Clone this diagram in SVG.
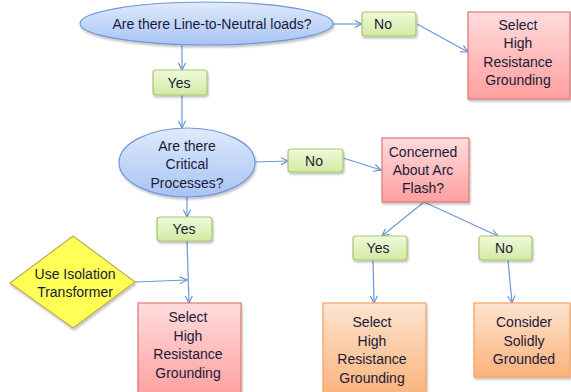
<svg xmlns="http://www.w3.org/2000/svg" width="571" height="392" viewBox="0 0 571 392">
<defs>
<linearGradient id="gBlue" x1="0" y1="0" x2="0" y2="1"><stop offset="0" stop-color="#dfeafc"/><stop offset="1" stop-color="#a8c4f4"/></linearGradient>
<linearGradient id="gGreen" x1="0" y1="0" x2="0" y2="1"><stop offset="0" stop-color="#f0f9dc"/><stop offset="1" stop-color="#d2eaa2"/></linearGradient>
<linearGradient id="gRed" x1="0" y1="0" x2="0" y2="1"><stop offset="0" stop-color="#ffdcdc"/><stop offset="1" stop-color="#ff9f9f"/></linearGradient>
<linearGradient id="gOrange" x1="0" y1="0" x2="0" y2="1"><stop offset="0" stop-color="#fde4d0"/><stop offset="1" stop-color="#fbb27a"/></linearGradient>
<filter id="sh" x="-10%" y="-10%" width="130%" height="130%"><feDropShadow dx="1" dy="2" stdDeviation="1.2" flood-color="#000" flood-opacity="0.25"/></filter>
<marker id="arr" viewBox="0 0 10 10" refX="9" refY="5" markerWidth="9" markerHeight="9" orient="auto" markerUnits="userSpaceOnUse"><path d="M1,1 L9,5 L1,9" fill="none" stroke="#5d8ccf" stroke-width="1.2"/></marker>
</defs>
<style>
text{font-family:"Liberation Sans",Arial,sans-serif;font-size:14px;fill:#1a1a38;text-anchor:middle}
.ell{fill:url(#gBlue);stroke:#6f97d6;stroke-width:1.2;filter:url(#sh)}
.grn{fill:url(#gGreen);stroke:#a6c96a;stroke-width:1.2;filter:url(#sh)}
.red{fill:url(#gRed);stroke:#d77a78;stroke-width:1.2;filter:url(#sh)}
.org{fill:url(#gOrange);stroke:#f4a161;stroke-width:1.2;filter:url(#sh)}
.dia{fill:#ffff55;stroke:#bfae55;stroke-width:1.2;filter:url(#sh)}
.c{fill:none;stroke:#6f97d6;stroke-width:1.2;marker-end:url(#arr)}
</style>
<rect width="571" height="392" fill="#fff"/>
<g id="connectors">
<line class="c" x1="333" y1="24" x2="362" y2="24"/>
<line class="c" x1="417" y1="24" x2="468" y2="52"/>
<line class="c" x1="182" y1="45" x2="182" y2="70"/>
<line class="c" x1="182" y1="95" x2="182" y2="128"/>
<line class="c" x1="255" y1="162" x2="288" y2="161"/>
<line class="c" x1="343" y1="158" x2="381" y2="170"/>
<line class="c" x1="187" y1="197" x2="187" y2="217"/>
<line class="c" x1="187" y1="241" x2="189" y2="303"/>
<line class="c" x1="135" y1="282" x2="187" y2="280"/>
<line class="c" x1="424" y1="202" x2="382" y2="236"/>
<line class="c" x1="424" y1="202" x2="498" y2="236"/>
<line class="c" x1="373" y1="260" x2="374" y2="303"/>
<line class="c" x1="508" y1="260" x2="512" y2="303"/>
</g>
<g id="q1"><ellipse class="ell" cx="206.5" cy="23.5" rx="126.5" ry="21.5"/><text x="212" y="29">Are there Line-to-Neutral loads?</text></g>
<g id="no1"><rect class="grn" x="362" y="12" width="54" height="24" rx="3"/><text x="383" y="29">No</text></g>
<g id="hrg1"><rect class="red" x="468" y="12" width="102" height="87"/><text x="518" y="30">Select</text><text x="518" y="48">High</text><text x="518" y="67">Resistance</text><text x="518" y="85">Grounding</text></g>
<g id="yes1"><rect class="grn" x="153" y="70" width="54" height="25" rx="3"/><text x="179" y="88">Yes</text></g>
<g id="q2"><ellipse class="ell" cx="187" cy="162.5" rx="68" ry="34.5"/><text x="187" y="151">Are there</text><text x="187" y="169">Critical</text><text x="187" y="188">Processes?</text></g>
<g id="no2"><rect class="grn" x="288" y="149" width="55" height="23" rx="3"/><text x="314" y="166">No</text></g>
<g id="q3"><rect class="red" x="382" y="138" width="87" height="64"/><text x="423" y="157">Concerned</text><text x="423" y="175">About Arc</text><text x="423" y="193">Flash?</text></g>
<g id="yes2"><rect class="grn" x="157" y="217" width="55" height="24" rx="3"/><text x="184" y="234">Yes</text></g>
<g id="yes3"><rect class="grn" x="353" y="236" width="54" height="24" rx="3"/><text x="378" y="253">Yes</text></g>
<g id="no3"><rect class="grn" x="479" y="236" width="53" height="24" rx="3"/><text x="504" y="253">No</text></g>
<g id="iso"><polygon class="dia" points="73,236 135,282 73,328 10,283"/><text x="75" y="279">Use Isolation</text><text x="75" y="297">Transformer</text></g>
<g id="hrg2"><rect class="red" x="138" y="303" width="103" height="95"/><text x="188" y="322">Select</text><text x="188" y="341">High</text><text x="188" y="359">Resistance</text><text x="188" y="378">Grounding</text></g>
<g id="hrg3"><rect class="org" x="323" y="303" width="103" height="95"/><text x="372" y="327">Select</text><text x="372" y="346">High</text><text x="372" y="364">Resistance</text><text x="372" y="383">Grounding</text></g>
<g id="solid"><rect class="org" x="474" y="303" width="96" height="74"/><text x="524" y="327">Consider</text><text x="524" y="346">Solidly</text><text x="524" y="364">Grounded</text></g>
</svg>
